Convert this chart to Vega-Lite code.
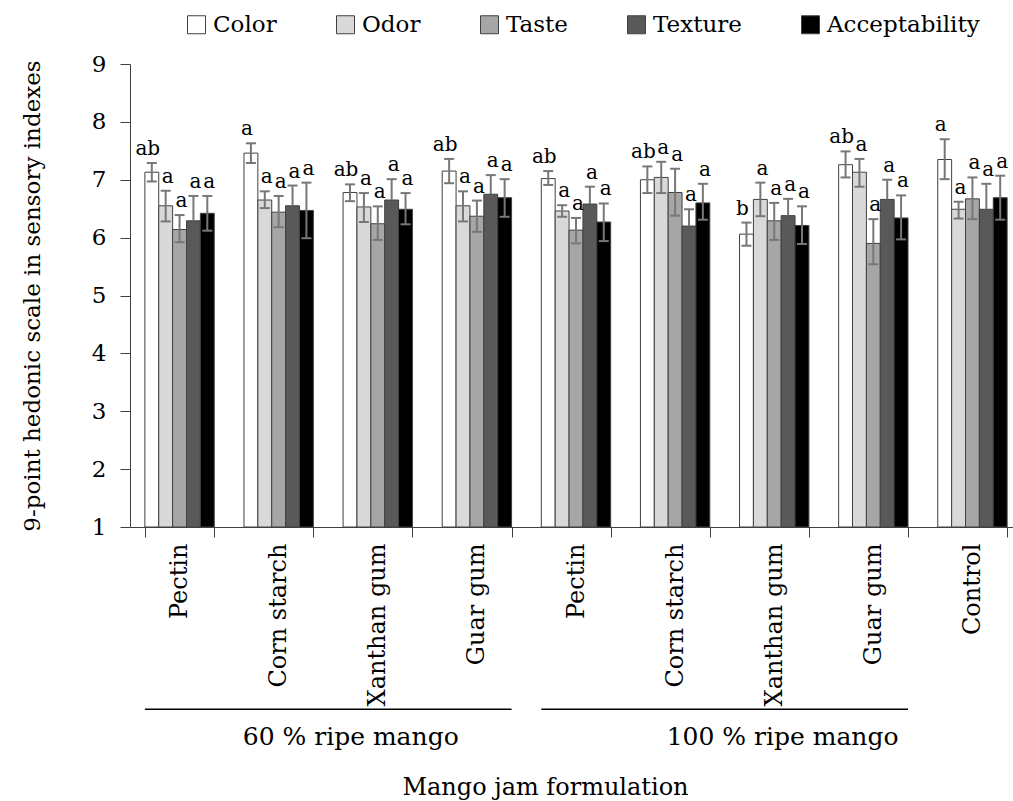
{
  "$schema": "https://vega.github.io/schema/vega-lite/v6.json",
  "autosize": {"type": "none"},
  "padding": {"left": 130, "top": 64, "right": 0, "bottom": 274},
  "width": 883,
  "height": 463,
  "background": "white",
  "config": {
    "view": {"stroke": null},
    "font": "DejaVu Serif",
    "axis": {"labelFont": "DejaVu Serif", "titleFont": "DejaVu Serif", "labelColor": "#000", "titleColor": "#000", "domainColor": "#404040", "tickColor": "#404040", "titleFontWeight": "normal", "grid": false}
  },
  "datasets": {
    "scores": [
      {"f": "Pectin|60", "attr": "Color", "mean": 7.13, "lo": 6.97, "hi": 7.29, "sig": "ab"},
      {"f": "Pectin|60", "attr": "Odor", "mean": 6.55, "lo": 6.28, "hi": 6.81, "sig": "a"},
      {"f": "Pectin|60", "attr": "Taste", "mean": 6.14, "lo": 5.92, "hi": 6.39, "sig": "a"},
      {"f": "Pectin|60", "attr": "Texture", "mean": 6.29, "lo": 5.86, "hi": 6.72, "sig": "a"},
      {"f": "Pectin|60", "attr": "Acceptability", "mean": 6.42, "lo": 6.12, "hi": 6.72, "sig": "a"},
      {"f": "Corn starch|60", "attr": "Color", "mean": 7.46, "lo": 7.29, "hi": 7.63, "sig": "a"},
      {"f": "Corn starch|60", "attr": "Odor", "mean": 6.65, "lo": 6.51, "hi": 6.80, "sig": "a"},
      {"f": "Corn starch|60", "attr": "Taste", "mean": 6.44, "lo": 6.18, "hi": 6.72, "sig": "a"},
      {"f": "Corn starch|60", "attr": "Texture", "mean": 6.55, "lo": 6.20, "hi": 6.90, "sig": "a"},
      {"f": "Corn starch|60", "attr": "Acceptability", "mean": 6.47, "lo": 5.99, "hi": 6.95, "sig": "a"},
      {"f": "Xanthan gum|60", "attr": "Color", "mean": 6.78, "lo": 6.63, "hi": 6.92, "sig": "ab"},
      {"f": "Xanthan gum|60", "attr": "Odor", "mean": 6.53, "lo": 6.27, "hi": 6.77, "sig": "a"},
      {"f": "Xanthan gum|60", "attr": "Taste", "mean": 6.24, "lo": 5.96, "hi": 6.54, "sig": "a"},
      {"f": "Xanthan gum|60", "attr": "Texture", "mean": 6.65, "lo": 6.29, "hi": 7.01, "sig": "a"},
      {"f": "Xanthan gum|60", "attr": "Acceptability", "mean": 6.49, "lo": 6.23, "hi": 6.77, "sig": "a"},
      {"f": "Guar gum|60", "attr": "Color", "mean": 7.15, "lo": 6.94, "hi": 7.36, "sig": "ab"},
      {"f": "Guar gum|60", "attr": "Odor", "mean": 6.55, "lo": 6.28, "hi": 6.80, "sig": "a"},
      {"f": "Guar gum|60", "attr": "Taste", "mean": 6.37, "lo": 6.10, "hi": 6.64, "sig": "a"},
      {"f": "Guar gum|60", "attr": "Texture", "mean": 6.75, "lo": 6.42, "hi": 7.08, "sig": "a"},
      {"f": "Guar gum|60", "attr": "Acceptability", "mean": 6.69, "lo": 6.36, "hi": 7.01, "sig": "a"},
      {"f": "Pectin|100", "attr": "Color", "mean": 7.02, "lo": 6.91, "hi": 7.15, "sig": "ab"},
      {"f": "Pectin|100", "attr": "Odor", "mean": 6.46, "lo": 6.36, "hi": 6.56, "sig": "a"},
      {"f": "Pectin|100", "attr": "Taste", "mean": 6.13, "lo": 5.90, "hi": 6.34, "sig": "a"},
      {"f": "Pectin|100", "attr": "Texture", "mean": 6.58, "lo": 6.28, "hi": 6.88, "sig": "a"},
      {"f": "Pectin|100", "attr": "Acceptability", "mean": 6.27, "lo": 5.94, "hi": 6.59, "sig": "a"},
      {"f": "Corn starch|100", "attr": "Color", "mean": 7.00, "lo": 6.77, "hi": 7.23, "sig": "ab"},
      {"f": "Corn starch|100", "attr": "Odor", "mean": 7.04, "lo": 6.77, "hi": 7.31, "sig": "a"},
      {"f": "Corn starch|100", "attr": "Taste", "mean": 6.78, "lo": 6.38, "hi": 7.19, "sig": "a"},
      {"f": "Corn starch|100", "attr": "Texture", "mean": 6.20, "lo": 5.91, "hi": 6.49, "sig": "a"},
      {"f": "Corn starch|100", "attr": "Acceptability", "mean": 6.60, "lo": 6.31, "hi": 6.93, "sig": "a"},
      {"f": "Xanthan gum|100", "attr": "Color", "mean": 6.06, "lo": 5.86, "hi": 6.26, "sig": "b"},
      {"f": "Xanthan gum|100", "attr": "Odor", "mean": 6.66, "lo": 6.37, "hi": 6.95, "sig": "a"},
      {"f": "Xanthan gum|100", "attr": "Taste", "mean": 6.29, "lo": 5.96, "hi": 6.60, "sig": "a"},
      {"f": "Xanthan gum|100", "attr": "Texture", "mean": 6.38, "lo": 6.09, "hi": 6.67, "sig": "a"},
      {"f": "Xanthan gum|100", "attr": "Acceptability", "mean": 6.21, "lo": 5.89, "hi": 6.54, "sig": "a"},
      {"f": "Guar gum|100", "attr": "Color", "mean": 7.26, "lo": 7.04, "hi": 7.49, "sig": "ab"},
      {"f": "Guar gum|100", "attr": "Odor", "mean": 7.13, "lo": 6.88, "hi": 7.36, "sig": "a"},
      {"f": "Guar gum|100", "attr": "Taste", "mean": 5.90, "lo": 5.54, "hi": 6.32, "sig": "a"},
      {"f": "Guar gum|100", "attr": "Texture", "mean": 6.66, "lo": 6.32, "hi": 7.00, "sig": "a"},
      {"f": "Guar gum|100", "attr": "Acceptability", "mean": 6.34, "lo": 5.97, "hi": 6.73, "sig": "a"},
      {"f": "Control|0", "attr": "Color", "mean": 7.35, "lo": 7.01, "hi": 7.70, "sig": "a"},
      {"f": "Control|0", "attr": "Odor", "mean": 6.49, "lo": 6.33, "hi": 6.62, "sig": "a"},
      {"f": "Control|0", "attr": "Taste", "mean": 6.67, "lo": 6.32, "hi": 7.04, "sig": "a"},
      {"f": "Control|0", "attr": "Texture", "mean": 6.49, "lo": 6.05, "hi": 6.93, "sig": "a"},
      {"f": "Control|0", "attr": "Acceptability", "mean": 6.69, "lo": 6.31, "hi": 7.07, "sig": "a"}
    ],
    "groups": [
      {"group": "60 % ripe mango", "start": "Pectin|60", "end": "Guar gum|60", "mid": "Xanthan gum|60"},
      {"group": "100 % ripe mango", "start": "Pectin|100", "end": "Guar gum|100", "mid": "Xanthan gum|100"}
    ]
  },
  "encoding": {
    "x": {
      "field": "f", "type": "nominal", "sort": null, "title": "Mango jam formulation",
      "scale": {
        "domain": ["Pectin|60", "Corn starch|60", "Xanthan gum|60", "Guar gum|60", "Pectin|100", "Corn starch|100", "Xanthan gum|100", "Guar gum|100", "Control|0"],
        "range": [0, 892], "paddingInner": 0.3, "paddingOuter": 0.15
      },
      "axis": {
        "labelExpr": "split(datum.label, '|')[0]", "labelAngle": -90, "labelFontSize": 24, "labelPadding": 6, "labelLimit": 400,
        "tickBand": "extent", "tickSize": 10, "titleFontSize": 24, "titleX": 415, "titlePadding": 70
      }
    }
  },
  "layer": [
    {
      "data": {"name": "scores"},
      "mark": {"type": "bar", "stroke": "#404040", "strokeWidth": 1},
      "encoding": {
        "xOffset": {"field": "attr", "type": "nominal", "sort": null, "scale": {"domain": ["Color", "Odor", "Taste", "Texture", "Acceptability"], "paddingInner": 0, "paddingOuter": 0}},
        "y": {"field": "mean", "type": "quantitative", "title": "9-point hedonic scale in sensory indexes",
              "scale": {"domain": [1, 9], "zero": false, "nice": false},
              "axis": {"values": [1, 2, 3, 4, 5, 6, 7, 8, 9], "format": "d", "labelFontSize": 23, "tickSize": 10, "labelPadding": 14, "titleFontSize": 23, "titlePadding": 47}},
        "y2": {"datum": 1},
        "fill": {"field": "attr", "type": "nominal", "sort": null,
                 "scale": {"domain": ["Color", "Odor", "Taste", "Texture", "Acceptability"], "range": ["#ffffff", "#d9d9d9", "#a6a6a6", "#595959", "#000000"]},
                 "legend": {"orient": "none", "legendX": 55, "legendY": -51, "direction": "horizontal", "title": null,
                            "symbolType": "square", "symbolSize": 324, "symbolStrokeColor": "#404040", "symbolStrokeWidth": 1,
                            "labelFont": "DejaVu Serif", "labelFontSize": 23, "labelColor": "#000", "labelLimit": 400, "labelOffset": 5, "columnPadding": 57}}
      }
    },
    {
      "data": {"name": "scores"},
      "mark": {"type": "rule", "stroke": "#777777", "strokeWidth": 2},
      "encoding": {
        "xOffset": {"field": "attr", "type": "nominal", "sort": null},
        "y": {"field": "mean", "type": "quantitative"},
        "y2": {"field": "hi"}
      }
    },
    {
      "data": {"name": "scores"},
      "transform": [{"filter": "datum.attr !== 'Texture'"}],
      "mark": {"type": "rule", "stroke": "#777777", "strokeWidth": 2},
      "encoding": {
        "xOffset": {"field": "attr", "type": "nominal", "sort": null},
        "y": {"field": "lo", "type": "quantitative"},
        "y2": {"field": "mean"}
      }
    },
    {
      "data": {"name": "scores"},
      "mark": {"type": "tick", "color": "#777777", "thickness": 2, "size": 10, "opacity": 1},
      "encoding": {
        "xOffset": {"field": "attr", "type": "nominal", "sort": null},
        "y": {"field": "hi", "type": "quantitative"}
      }
    },
    {
      "data": {"name": "scores"},
      "transform": [{"filter": "datum.attr !== 'Texture'"}],
      "mark": {"type": "tick", "color": "#777777", "thickness": 2, "size": 10, "opacity": 1},
      "encoding": {
        "xOffset": {"field": "attr", "type": "nominal", "sort": null},
        "y": {"field": "lo", "type": "quantitative"}
      }
    },
    {
      "data": {"name": "scores"},
      "transform": [{"filter": "datum.attr === 'Color'"}],
      "mark": {"type": "text", "font": "DejaVu Serif", "fontSize": 20, "color": "#000", "baseline": "alphabetic", "align": "center", "dy": -8, "dx": -4},
      "encoding": {
        "xOffset": {"field": "attr", "type": "nominal", "sort": null},
        "y": {"field": "hi", "type": "quantitative"},
        "text": {"field": "sig"}
      }
    },
    {
      "data": {"name": "scores"},
      "transform": [{"filter": "datum.attr !== 'Color'"}],
      "mark": {"type": "text", "font": "DejaVu Serif", "fontSize": 20, "color": "#000", "baseline": "alphabetic", "align": "center", "dy": -8, "dx": 2},
      "encoding": {
        "xOffset": {"field": "attr", "type": "nominal", "sort": null},
        "y": {"field": "hi", "type": "quantitative"},
        "text": {"field": "sig"}
      }
    },
    {
      "data": {"name": "groups"},
      "mark": {"type": "rule", "stroke": "#000", "strokeWidth": 1.5},
      "encoding": {
        "x": {"field": "start", "type": "nominal", "bandPosition": 0},
        "x2": {"field": "end", "bandPosition": 1},
        "y": {"datum": -2.15}
      }
    },
    {
      "data": {"name": "groups"},
      "transform": [{"filter": "datum.group === '60 % ripe mango'"}],
      "mark": {"type": "text", "font": "DejaVu Serif", "fontSize": 25, "color": "#000", "baseline": "alphabetic", "align": "center"},
      "encoding": {
        "x": {"field": "mid", "type": "nominal", "bandPosition": 0.11},
        "y": {"datum": -2.767},
        "text": {"field": "group"}
      }
    },
    {
      "data": {"name": "groups"},
      "transform": [{"filter": "datum.group === '100 % ripe mango'"}],
      "mark": {"type": "text", "font": "DejaVu Serif", "fontSize": 25, "color": "#000", "baseline": "alphabetic", "align": "center"},
      "encoding": {
        "x": {"field": "mid", "type": "nominal", "bandPosition": 0.62},
        "y": {"datum": -2.767},
        "text": {"field": "group"}
      }
    }
  ]
}
